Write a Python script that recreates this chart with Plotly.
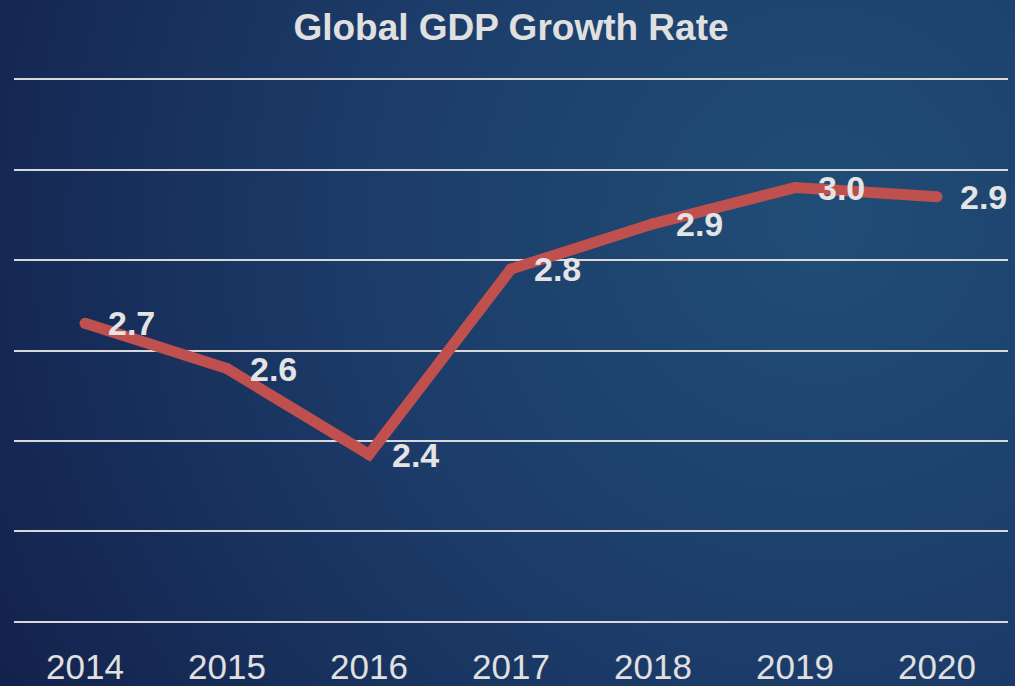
import base64
import plotly.graph_objects as go

# ---- data ----
years = ["2014", "2015", "2016", "2017", "2018", "2019", "2020"]
growth = [2.66, 2.56, 2.37, 2.78, 2.88, 2.96, 2.94]
title_text = "Global GDP Growth Rate"

W, H = 1015, 686
FONT = "Liberation Sans, Arial, sans-serif"

# background gradient (style only)
svg = f'''<svg xmlns="http://www.w3.org/2000/svg" width="{W}" height="{H}">
<defs><radialGradient id="g" gradientUnits="userSpaceOnUse" cx="820" cy="220" r="1050">
<stop offset="0" stop-color="#204d77"/>
<stop offset="0.45" stop-color="#1c3b68"/>
<stop offset="1" stop-color="#111c46"/>
</radialGradient></defs>
<rect width="{W}" height="{H}" fill="url(#g)"/></svg>'''
bg_uri = "data:image/svg+xml;base64," + base64.b64encode(svg.encode()).decode()

fig = go.Figure()
fig.add_trace(go.Scatter(
    x=years, y=growth, mode="lines+markers",
    line=dict(color="#c0504d", width=11),
    marker=dict(color="#c0504d", size=11, line=dict(width=0)),
    hoverinfo="skip", showlegend=False,
))

annotations = []
for i, v in enumerate(growth):
    annotations.append(dict(
        x=i, y=v, xref="x", yref="y", text=f"<b>{v:.1f}</b>", showarrow=False,
        xanchor="left", yanchor="middle", xshift=21,
        font=dict(family=FONT, size=34, color="#e4e4e4"),
    ))

fig.update_layout(
    width=W, height=H, autosize=False,
    margin=dict(l=0, r=0, t=0, b=0, pad=0),
    paper_bgcolor="#142552",
    plot_bgcolor="rgba(0,0,0,0)",
    images=[dict(source=bg_uri, xref="paper", yref="paper", x=0, y=1,
                 sizex=1, sizey=1, sizing="stretch", layer="below",
                 xanchor="left", yanchor="top")],
    title=dict(text=f"<b>{title_text}</b>", x=511 / W, xanchor="center",
               y=1 - 27 / H, yanchor="middle",
               font=dict(family=FONT, size=37, color="#e0e0e0")),
    xaxis=dict(domain=[14 / W, 1008 / W], range=[-0.5, 6.5], type="category",
               showgrid=False, zeroline=False, showline=False, ticks="",
               ticklabelstandoff=16, automargin=False,
               tickfont=dict(family=FONT, size=35, color="#e0e0e0")),
    yaxis=dict(domain=[1 - 626.5 / H, 1 - 74.5 / H], range=[1.99, 3.21],
               tick0=2.0, dtick=0.2, showticklabels=False, ticks="",
               showgrid=True, gridcolor="#d9d9d9", gridwidth=2,
               zeroline=False, showline=False, automargin=False),
    annotations=annotations,
)

fig.write_html(
    "out.html",
    config={"displayModeBar": False, "responsive": False, "staticPlot": True},
    post_script="document.body.style.margin='0';document.body.style.padding='0';"
                "document.documentElement.style.overflow='hidden';document.body.style.overflow='hidden';",
)
